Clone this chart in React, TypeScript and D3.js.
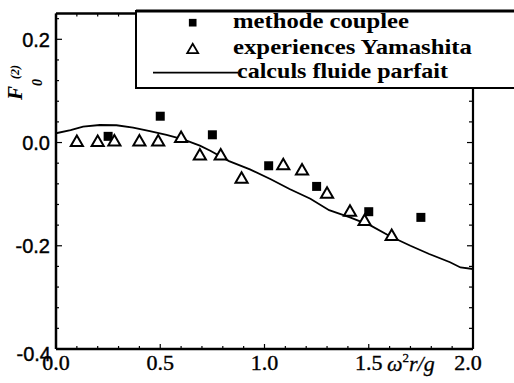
import React from 'react';
import * as d3 from 'd3';

// methode couplee (filled squares)
const coupleeX = [0.25, 0.5, 0.75, 1.02, 1.25, 1.5, 1.75];
const coupleeY = [0.012, 0.051, 0.015, -0.045, -0.085, -0.134, -0.145];

// experiences Yamashita (open triangles)
const yamaX = [0.1, 0.2, 0.28, 0.4, 0.49, 0.6, 0.69, 0.79, 0.89, 1.09, 1.18, 1.3, 1.41, 1.48, 1.61];
const yamaY = [0.0, 0.0, 0.001, 0.001, 0.001, 0.008, -0.026, -0.026, -0.071, -0.045, -0.055, -0.1, -0.135, -0.153, -0.182];

// calculs fluide parfait (line)
const fluideX = [0, 0.07, 0.13, 0.21, 0.29, 0.37, 0.45, 0.53, 0.61, 0.69, 0.74, 0.83, 0.93, 1.03, 1.12, 1.22, 1.31, 1.41, 1.51, 1.6, 1.7, 1.79, 1.89, 1.94, 2.0];
const fluideY = [0.018, 0.024, 0.031, 0.034, 0.0335, 0.029, 0.022, 0.015, 0.006, -0.006, -0.016, -0.036, -0.052, -0.071, -0.09, -0.109, -0.131, -0.145, -0.161, -0.181, -0.2, -0.216, -0.232, -0.242, -0.245];

const xMajor = [0, 0.5, 1.0, 1.5, 2.0];
const xLabels = ['0.0', '0.5', '1.0', '1.5', '2.0'];
const yMajor = [-0.4, -0.2, 0.0, 0.2];
const yLabels = ['-0.4', '-0.2', '0.0', '0.2'];
const legendLabels = ['methode couplee', 'experiences Yamashita', 'calculs fluide parfait'];

const W = 514;
const H = 383;

export default function App() {
  const x = d3.scaleLinear().domain([0, 2]).range([56, 473]);
  const y = d3.scaleLinear().domain([-0.4, 0.25]).range([349, 13.5]);

  const xMinor = d3.range(0, 2.0001, 0.1);
  const yMinor = d3.range(-0.4, 0.2401, 0.04);

  const line = d3.line<number>()
    .x((d, i) => x(fluideX[i]))
    .y(d => y(d));

  const square = d3.symbol(d3.symbolSquare, 81)();
  const tri = d3.symbol(d3.symbolTriangle, 64)();

  const serif = '"Liberation Serif", "Times New Roman", serif';
  const sans = '"Liberation Sans", Arial, sans-serif';

  return (
    <svg width={W} height={H} style={{ position: 'absolute', left: 0, top: 0, background: '#fff' }}>
      {/* curve */}
      <path d={line(fluideY) || ''} fill="none" stroke="#000" strokeWidth={1.8} />

      {/* frame */}
      <g stroke="#000" fill="none">
        <line x1={56} x2={473} y1={349} y2={349} strokeWidth={2.5} />
        <line x1={56} x2={56} y1={13.5} y2={349} strokeWidth={2.5} />
        <line x1={473} x2={473} y1={13.5} y2={349} strokeWidth={2.2} />
        <line x1={56} x2={473} y1={13.5} y2={13.5} strokeWidth={2.5} />
        {xMinor.map((v, i) => {
          const maj = Math.abs(v * 2 - Math.round(v * 2)) < 1e-6;
          return (
            <g key={'xt' + i}>
              <line x1={x(v)} x2={x(v)} y1={349} y2={349 - (maj ? 5 : 3)} strokeWidth={1.2} />
              <line x1={x(v)} x2={x(v)} y1={13.5} y2={13.5 + (maj ? 5 : 3)} strokeWidth={1.2} />
            </g>
          );
        })}
        {yMinor.map((v, i) => {
          const maj = Math.abs(v * 5 - Math.round(v * 5)) < 1e-6;
          return (
            <g key={'yt' + i}>
              <line x1={56} x2={56 + (maj ? 6 : 3)} y1={y(v)} y2={y(v)} strokeWidth={1.2} />
              <line x1={473} x2={473 - (maj ? 6 : 4)} y1={y(v)} y2={y(v)} strokeWidth={1.2} />
            </g>
          );
        })}
      </g>

      {/* markers */}
      {coupleeX.map((v, i) => (
        <path key={'sq' + i} d={square || ''} transform={`translate(${x(v)},${y(coupleeY[i])})`} fill="#000" />
      ))}
      {yamaX.map((v, i) => (
        <path key={'tr' + i} d={tri || ''} transform={`translate(${x(v)},${y(yamaY[i])})`} fill="#fff" stroke="#000" strokeWidth={2} />
      ))}

      {/* y tick labels */}
      {yMajor.map((v, i) => {
        const last = i === 0;
        return (
          <text key={'yl' + i} x={last ? 51 : 50} y={y(v) + (last ? 5 : 0)} dy="0.36em" textAnchor="end"
            fontFamily={sans} fontSize={20} fill="#000" stroke="#000" strokeWidth={0.4}>
            {yLabels[i]}
          </text>
        );
      })}

      {/* x tick labels */}
      {xMajor.map((v, i) => (
        <text key={'xl' + i} x={x(v) + (i === xMajor.length - 1 ? -5 : 0)} y={370} textAnchor="middle"
          fontFamily={serif} fontSize={22} fill="#000" stroke="#000" strokeWidth={0.4}>
          {xLabels[i]}
        </text>
      ))}

      {/* x axis title */}
      <text x={387} y={371} fontFamily={serif} fontStyle="italic" fontSize={22} fill="#000" stroke="#000" strokeWidth={0.3}>
        ω<tspan fontSize={13} dy={-9} fontStyle="normal">2</tspan>
        <tspan dy={9}>r/g</tspan>
      </text>

      {/* y axis title */}
      <g transform="translate(22,100) rotate(-90)">
        <text x={0} y={0} fontFamily={serif} fontStyle="italic" fontWeight="bold" fontSize={21} fill="#000">F</text>
        <text x={14} y={20} fontFamily={serif} fontStyle="italic" fontWeight="bold" fontSize={14} fill="#000">0</text>
        <text x={21} y={-3} fontFamily={serif} fontStyle="italic" fontWeight="bold" fontSize={12} fill="#000">(2)</text>
      </g>

      {/* legend */}
      <rect x={136} y={11} width={400} height={77} fill="#fff" stroke="#000" strokeWidth={2} />
      <line x1={136} x2={514} y1={11} y2={11} stroke="#000" strokeWidth={3} />
      <path d={square || ''} transform="translate(192.7,22.7) scale(0.85)" fill="#000" />
      <path d={tri || ''} transform="translate(192.7,50) scale(0.9)" fill="#fff" stroke="#000" strokeWidth={2} />
      <line x1={153} x2={238} y1={72.7} y2={72.7} stroke="#000" strokeWidth={1.8} />
      {legendLabels.map((t, i) => (
        <text key={'lg' + i} x={i === 2 ? 237 : 233} y={[28, 54, 78][i]}
          fontFamily={serif} fontWeight="bold" fontSize={22} fill="#000"
          textLength={[176, 239, 211][i]} lengthAdjust="spacingAndGlyphs">
          {t}
        </text>
      ))}
    </svg>
  );
}
